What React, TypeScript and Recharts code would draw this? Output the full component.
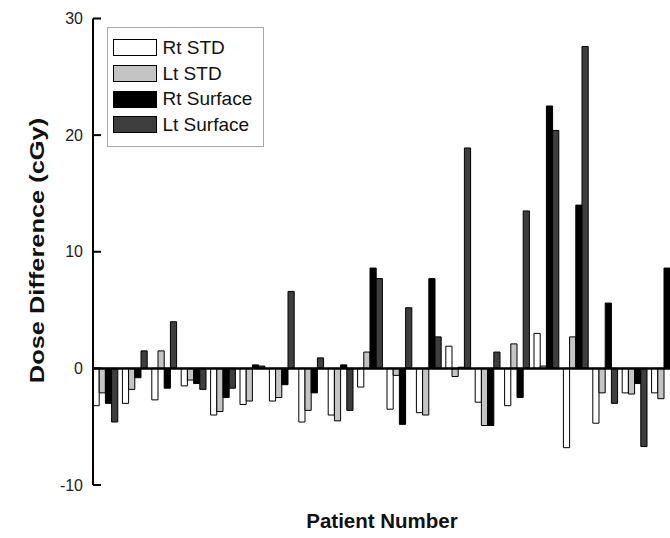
import React from 'react';
import { BarChart, Bar, XAxis, YAxis, ReferenceLine, Legend } from 'recharts';

const patients = ['1', '2', '3', '4', '5', '6', '7', '8', '9', '10', '11', '12', '13', '14', '15', '16', '17', '18', '19', '20'];
const rtStd = [-3.2, -3.0, -2.7, -1.5, -4.0, -3.1, -2.8, -4.6, -4.0, -1.6, -3.5, -3.8, 1.9, -2.9, -3.2, 3.0, -6.8, -4.7, -2.1, -2.1];
const ltStd = [-2.1, -1.8, 1.5, -1.0, -3.7, -2.8, -2.5, -3.6, -4.5, 1.4, -0.6, -4.0, -0.7, -4.9, 2.1, 0.2, 2.7, -2.1, -2.2, -2.6];
const rtSurface = [-3.0, -0.8, -1.7, -1.3, -2.5, 0.3, -1.4, -2.1, 0.3, 8.6, -4.8, 7.7, 0.1, -4.9, -2.5, 22.5, 14.0, 5.6, -1.3, 8.6];
const ltSurface = [-4.6, 1.5, 4.0, -1.8, -1.7, 0.2, 6.6, 0.9, -3.6, 7.7, 5.2, 2.7, 18.9, 1.4, 13.5, 20.4, 27.6, -3.0, -6.7, 5.0];
const yTicks = [-10, 0, 10, 20, 30];
const seriesNames = ['Rt STD', 'Lt STD', 'Rt Surface', 'Lt Surface'];
const seriesKeys = ['rtStd', 'ltStd', 'rtSurface', 'ltSurface'];
const seriesColors = ['#ffffff', '#c4c4c4', '#000000', '#3e3e3e'];

const data = patients.map((p, i) => ({
  patient: p,
  rtStd: rtStd[i],
  ltStd: ltStd[i],
  rtSurface: rtSurface[i],
  ltSurface: ltSurface[i],
}));

const FONT = '"Liberation Sans", Arial, Helvetica, sans-serif';

const LegendBox = (props: any) => {
  const payload = (props.payload || []) as any[];
  const ordered = seriesNames.map((n, i) => {
    const found = payload.find((e: any) => e.value === n);
    return { value: n, color: found ? found.color : seriesColors[i] };
  });
  return (
    <div
      style={{
        width: 157,
        height: 120,
        boxSizing: 'border-box',
        border: '1.5px solid #a8a8a8',
        background: '#fff',
        padding: '7px 0 0 4.5px',
        fontFamily: FONT,
        fontSize: 19,
        color: '#111',
      }}
    >
      {ordered.map((entry: any, i: number) => (
        <div key={i} style={{ display: 'flex', alignItems: 'center', height: 25.7 }}>
          <span
            style={{
              display: 'inline-block',
              width: 44,
              height: 17,
              boxSizing: 'border-box',
              border: '1px solid #000',
              background: entry.color,
            }}
          />
          <span style={{ marginLeft: 6, lineHeight: '20px', whiteSpace: 'nowrap' }}>{entry.value}</span>
        </div>
      ))}
    </div>
  );
};

const YLabel = () => (
  <text
    transform="translate(44,250.5) rotate(-90) scale(1.27,1)"
    textAnchor="middle"
    fontFamily={FONT}
    fontSize={20}
    fontWeight="bold"
    fill="#111"
  >
    Dose Difference (cGy)
  </text>
);

const XLabel = () => (
  <text x={382} y={528} textAnchor="middle" fontFamily={FONT} fontSize={20.5} fontWeight="bold" fill="#111">
    Patient Number
  </text>
);

export default function App() {
  return (
    <div
      style={{
        position: 'fixed',
        left: 0,
        top: 0,
        width: 670,
        height: 538,
        overflow: 'hidden',
        background: '#fff',
      }}
    >
      <BarChart
        width={700}
        height={538}
        data={data}
        margin={{ top: 18.5, right: 21, bottom: 8, left: 0 }}
        barGap={0}
        barSize={6.2}
      >
        <XAxis
          dataKey="patient"
          tick={false}
          tickLine={false}
          axisLine={false}
          height={45}
          padding={{ left: -2, right: 0 }}
          label={<XLabel />}
        />
        <YAxis
          type="number"
          domain={[-10, 30]}
          ticks={yTicks}
          width={93}
          interval={0}
          axisLine={{ stroke: '#000', strokeWidth: 2 }}
          tickLine={{ stroke: '#000', strokeWidth: 2 }}
          tickSize={-8}
          tickMargin={18}
          tick={{ fontFamily: FONT, fontSize: 16, fill: '#222' }}
          label={<YLabel />}
        />
        {seriesKeys.map((k, i) => (
          <Bar
            key={k}
            dataKey={k}
            name={seriesNames[i]}
            fill={seriesColors[i]}
            stroke="#000"
            strokeWidth={1}
            isAnimationActive={false}
          />
        ))}
        <ReferenceLine y={0} stroke="#000" strokeWidth={2.5} />
        <Legend
          layout="vertical"
          verticalAlign="middle"
          align="center"
          content={<LegendBox />}
          wrapperStyle={{ left: 107, top: 27, width: 157, height: 120 }}
        />
      </BarChart>
    </div>
  );
}
